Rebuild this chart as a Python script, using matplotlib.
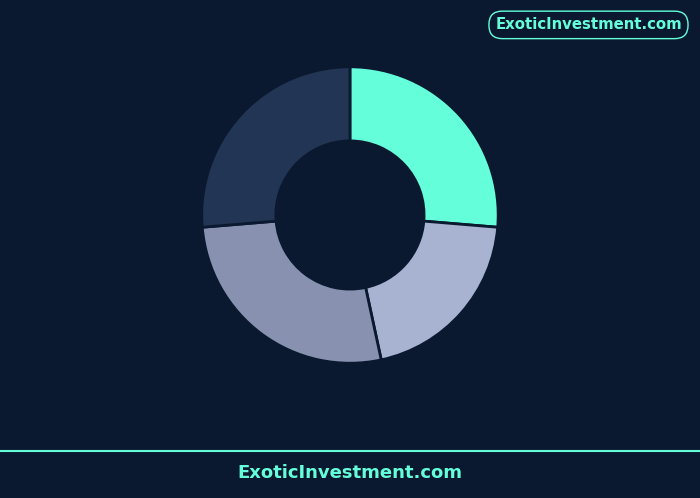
import matplotlib.pyplot as plt

labels = ['A', 'B', 'C', 'D']
values = [35, 27, 36, 35]
colors = ['#64FFDA', '#A8B2D1', '#8892B0', '#233554']

bg = '#0A192F'
accent = '#64FFDA'

fig = plt.figure(figsize=(7, 4.98), dpi=100, facecolor=bg)
ax = fig.add_axes([0.2914, 0.2751, 0.4171, 0.5863])
ax.set_facecolor(bg)
ax.pie(values, colors=colors, startangle=90, counterclock=False,
       wedgeprops=dict(width=0.5, edgecolor=bg, linewidth=2))
ax.set_xlim(-0.985, 0.985)
ax.set_ylim(-0.985, 0.985)
ax.set_aspect('equal')
ax.axis('off')

# footer line and text
fig.add_artist(plt.Line2D([0, 1], [0.0944, 0.0944], color=accent, lw=1.5,
                          transform=fig.transFigure))
fig.text(0.5, 0.05, 'ExoticInvestment.com', color=accent, fontsize=13,
         fontweight='bold', ha='center', va='center')

# badge top right
fig.text(0.8407, 0.95, 'ExoticInvestment.com', color=accent, fontsize=10.7,
         fontweight='bold', ha='center', va='center',
         bbox=dict(boxstyle='round,pad=0.42,rounding_size=0.9', facecolor=bg,
                   edgecolor=accent, lw=1))

fig.savefig('out.png', dpi=100, facecolor=bg)
